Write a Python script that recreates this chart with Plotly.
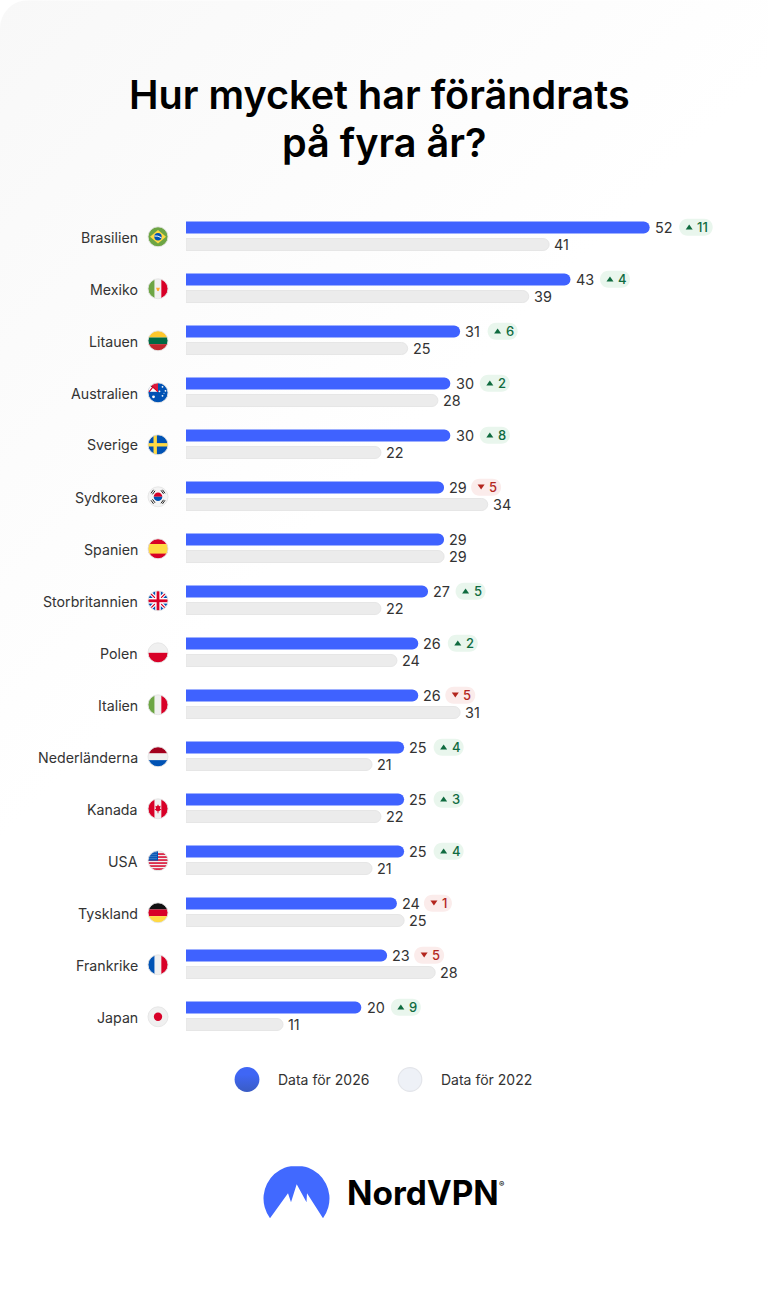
import base64
import plotly.graph_objects as go

countries = ['Brasilien', 'Mexiko', 'Litauen', 'Australien', 'Sverige', 'Sydkorea', 'Spanien', 'Storbritannien',
             'Polen', 'Italien', 'Nederländerna', 'Kanada', 'USA', 'Tyskland', 'Frankrike', 'Japan']
data_2026 = [52.1, 43.2, 30.8, 29.7, 29.7, 29.0, 29.0, 27.2, 26.1, 26.1, 24.51, 24.51, 24.51, 23.7, 22.6, 19.7]
data_2022 = [40.8, 38.51, 24.9, 28.3, 21.9, 33.9, 29.0, 21.9, 23.7, 30.8, 20.9, 21.9, 20.9, 24.51, 28.0, 10.9]
change = [11, 4, 6, 2, 8, -5, 0, 5, 2, -5, 4, 3, 4, -1, -5, 9]
title_lines = ['Hur mycket har förändrats', 'på fyra år?']

W, H = 768, 1289
L, R, T, B = 186, 20, 209.8, 247.2
SCALE = 8.9  # pixlar per enhet

FONT = 'Inter'
TEXT = '#333333'
BLUE = '#3F62FF'


def px(x):
    return (x - L) / (W - L - R)


def py(y):
    return 1 - (y - T) / (H - T - B)


def svg_uri(body, w, h, scale=4, box=None):
    box = box or f'0 0 {w} {h}'
    svg = (f'<svg xmlns="http://www.w3.org/2000/svg" width="{w * scale}" height="{h * scale}" '
           f'viewBox="{box}">{body}</svg>')
    return 'data:image/svg+xml;base64,' + base64.b64encode(svg.encode()).decode()


def image(uri, x, y, w, h, layer='above'):
    return dict(source=uri, xref='paper', yref='paper', x=px(x), y=py(y), sizex=w / (W - L - R),
                sizey=h / (H - T - B), xanchor='left', yanchor='top', sizing='stretch', layer=layer)


def rect(x, y, w, h, c):
    return f'<rect x="{x}" y="{y}" width="{w}" height="{h}" fill="{c}"/>'


def hbands(a, b, c):
    return rect(0, 0, 20, 6.67, a) + rect(0, 6.67, 20, 6.67, b) + rect(0, 13.33, 20, 6.67, c)


def vbands(a, b, c):
    return rect(0, 0, 6.67, 20, a) + rect(6.67, 0, 6.67, 20, b) + rect(13.33, 0, 6.67, 20, c)


RED, WHITE, NAVY, GREEN, YELLOW = '#D80027', '#F0F0F0', '#0052B4', '#6DA544', '#FFDA44'

us_stripes = ''.join(rect(0, y, 20, 1.5, RED) for y in (2.5, 5.5, 8.5, 11.5, 14.5, 17.5))
us_stars = ''.join(f'<circle cx="{x}" cy="{y}" r=".45" fill="#fff"/>' for x in (2, 4, 6, 8) for y in (2, 4, 6, 8))
au_stars = ''.join(f'<circle cx="{x}" cy="{y}" r="{r}" fill="#fff"/>'
                   for x, y, r in [(14.5, 4, .9), (17.5, 8, .9), (11.5, 8.5, .9), (14.5, 13, .9), (5.5, 14, 1.4), (16, 10.5, .5)])

flags = {
    'Brasilien': rect(0, 0, 20, 20, GREEN) + f'<path d="M10 3.2 18 10 10 16.8 2 10Z" fill="{YELLOW}"/>'
                 f'<circle cx="10" cy="10" r="3.7" fill="{NAVY}"/><path d="M6.4 9.2Q10 8.6 13.5 11" stroke="#fff" fill="none"/>',
    'Mexiko': vbands(GREEN, WHITE, RED) + '<path d="M8 9h4l-1 2.5-1 1-1-1z" fill="#FFA830"/>',
    'Litauen': hbands('#FFC72C', '#006A44', '#C1272D'),
    'Australien': rect(0, 0, 20, 20, NAVY) + rect(1, 0, 9, 9, '#fff')
                  + '<path d="M1 0h9v9z" fill="#D80027" opacity=".9"/><path d="M1 9 5 4M1 2h2l7 7" stroke="#D80027" stroke-width="1.2"/>'
                  + au_stars,
    'Sverige': rect(0, 0, 20, 20, NAVY) + rect(5.5, 0, 3.4, 20, YELLOW) + rect(0, 8.3, 20, 3.4, YELLOW),
    'Sydkorea': rect(0, 0, 20, 20, '#F4F4F4') + f'<path d="M5.7 10a4.3 4.3 0 0 1 8.6 0z" fill="{RED}"/>'
                f'<path d="M5.7 10a4.3 4.3 0 0 0 8.6 0z" fill="{NAVY}"/>'
                '<path d="M3 6.5 5.5 3M4.5 7.5 7 4M13 3.5 15.5 7M14.5 3 17 6.5M3 13.5 5.5 17M4.5 12.5 7 16M13 16.5 15.5 13M14.5 17 17 13.5"'
                ' stroke="#222" stroke-width="1"/>',
    'Spanien': rect(0, 0, 20, 20, RED) + rect(0, 5.2, 20, 9.6, YELLOW),
    'Storbritannien': rect(0, 0, 20, 20, NAVY)
                      + '<path d="M0 0 20 20M20 0 0 20" stroke="#fff" stroke-width="3.6"/>'
                      + f'<path d="M0 0 20 20M20 0 0 20" stroke="{RED}" stroke-width="1.2"/>'
                      + rect(7.2, 0, 5.6, 20, '#fff') + rect(0, 7.2, 20, 5.6, '#fff')
                      + rect(8.6, 0, 2.8, 20, RED) + rect(0, 8.6, 20, 2.8, RED),
    'Polen': rect(0, 0, 20, 10, WHITE) + rect(0, 10, 20, 10, RED),
    'Italien': vbands(GREEN, WHITE, RED),
    'Nederländerna': hbands('#A2001D', WHITE, NAVY),
    'Kanada': vbands(RED, WHITE, RED) + f'<path d="M10 5.5 11 7.5 12.7 7 12 10 13.5 10.5 11 12.5 10.4 12.5V14.5H9.6V12.5L9 12.5 6.5 10.5 8 10 7.3 7 9 7.5Z" fill="{RED}"/>',
    'USA': rect(0, 0, 20, 20, WHITE) + us_stripes + rect(0, 0, 10, 9.8, NAVY) + us_stars,
    'Tyskland': hbands('#111111', RED, YELLOW),
    'Frankrike': vbands(NAVY, WHITE, RED),
    'Japan': rect(0, 0, 20, 20, WHITE) + f'<circle cx="10" cy="10" r="4.2" fill="{RED}"/>',
}


def flag_uri(body):
    return svg_uri('<clipPath id="c"><circle cx="10" cy="10" r="10"/></clipPath>'
                   f'<g clip-path="url(#c)">{body}</g>'
                   '<circle cx="10" cy="10" r="10" fill="none" stroke="#E4E4E4" stroke-width=".9"/>',
                   22, 22, box='-1 -1 22 22')


background = ('<defs><linearGradient id="g" gradientUnits="userSpaceOnUse" x1="0" y1="0" x2="420" y2="420">'
              '<stop offset="0" stop-color="#F8F8F8"/><stop offset="1" stop-color="#FFFFFF"/></linearGradient></defs>'
              f'<rect x="0" y="0" width="{W + 40}" height="{H + 40}" rx="28" fill="url(#g)"/>')

blue_dot = ('<defs><linearGradient id="b" x1="0" y1="0" x2="0" y2="1"><stop offset=".3" stop-color="#3F66F5"/>'
            '<stop offset="1" stop-color="#3A5CC4"/></linearGradient></defs><circle cx="13" cy="13" r="12.4" fill="url(#b)"/>')
grey_dot = '<circle cx="13" cy="13" r="11.8" fill="#EEF1F7" stroke="#E3E5EA" stroke-width="1.2"/>'

logo = ('<path d="M7 52A33 33 0 1 1 60 52L44 27 43.5 36 33.7 18 28 36 25 27Z" fill="#4169FF"/>')

fig = go.Figure()
fig.add_trace(go.Bar(y=countries, x=data_2026, orientation='h', name='Data för 2026',
                     marker=dict(color=BLUE, line=dict(width=0))))
fig.add_trace(go.Bar(y=countries, x=data_2022, orientation='h', name='Data för 2022',
                     marker=dict(color='#ECECEC', line=dict(color='#E6E6E6', width=1))))

annotations = []
shapes = []
images = [image(svg_uri(background, W, H, scale=1), 0, 0, W, H, layer='below')]


def note(text, x, y, xref='x', yref='y', size=14, color=TEXT, weight=400, anchor='left', xshift=0, yshift=0):
    annotations.append(dict(text=text, x=x, y=y, xref=xref, yref=yref, xanchor=anchor, yanchor='middle',
                            showarrow=False, xshift=xshift, yshift=yshift, borderpad=0, borderwidth=0,
                            font=dict(family=FONT, size=size, color=color, weight=weight)))


def pill_path(x0, w, cy, h=17.0):
    r = h / 2
    k = r * 4 / 3
    x1 = x0 + w
    top, bot = cy + r, cy - r
    return (f'M {x0 + r} {top} L {x1 - r} {top} C {x1 - r + k} {top} {x1 - r + k} {bot} {x1 - r} {bot} '
            f'L {x0 + r} {bot} C {x0 + r - k} {bot} {x0 + r - k} {top} {x0 + r} {top} Z')


ROW_SHIFT = 8.7  # blå stapeln ligger så här många px ovanför radens mitt

for i, name in enumerate(countries):
    images.append(image(flag_uri(flags[name]), 147, T + 26 + 52 * i - 10.2, 22, 22))
    note(name, px(138), name, xref='paper', size=14.2, anchor='right', yshift=-1.2)

    label = f'{data_2026[i]:.0f}'
    note(label, data_2026[i], name, size=14.4, xshift=5.2, yshift=ROW_SHIFT)
    note(f'{data_2022[i]:.0f}', data_2022[i], name, size=14.4, xshift=5.2, yshift=-ROW_SHIFT)

    d = change[i]
    if d == 0:
        continue
    up = d > 0
    gap = 29.5 if up else 27
    if '1' in label or '7' in label:
        gap -= 2
    width = 33.5 if abs(d) == 11 else (28 if abs(d) == 1 else 30)
    fill = '#E9F6ED' if up else '#FBECEB'
    ink = '#0F6B3F' if up else '#B3261E'
    anchor_args = dict(xref='x', yref='y', xsizemode='pixel', ysizemode='pixel', xanchor=data_2026[i], yanchor=name,
                       line=dict(width=0), layer='above')
    shapes.append(dict(type='path', path=pill_path(gap, width, ROW_SHIFT), fillcolor=fill, **anchor_args))
    tx = gap + 6.5
    c = ROW_SHIFT + 0.3
    if up:
        tri = f'M {tx} {c - 2.4} L {tx + 7} {c - 2.4} L {tx + 3.5} {c + 2.4} Z'
    else:
        tri = f'M {tx} {c + 2.4} L {tx + 7} {c + 2.4} L {tx + 3.5} {c - 2.4} Z'
    shapes.append(dict(type='path', path=tri, fillcolor=ink, **anchor_args))
    note(str(abs(d)), data_2026[i], name, size=13, color=ink, weight=500, xshift=gap + 18, yshift=ROW_SHIFT + 0.2)

# rubrik
for line, x, y in zip(title_lines, (379.5, 383.5), (95, 143)):
    note(line, px(x), py(y), xref='paper', yref='paper', size=39.6, color='#000000', weight=600, anchor='center')

# teckenförklaring
images.append(image(svg_uri(blue_dot, 26, 26), 234, 1066.3, 26, 26))
images.append(image(svg_uri(grey_dot, 26, 26), 397, 1066.3, 26, 26))
note('Data för 2026', px(278), py(1079), xref='paper', yref='paper')
note('Data för 2022', px(440.5), py(1079), xref='paper', yref='paper')

# logotyp
images.append(image(svg_uri(logo, 68, 56), 263, 1166, 68, 56))
note('NordVPN', px(346.5), py(1193), xref='paper', yref='paper', size=33.4, color='#000000', weight=700)
note('®', px(498.5), py(1184), xref='paper', yref='paper', size=8, color='#000000', weight=600)

layout = go.Layout(
    width=W,
    height=H,
    margin=dict(l=L, r=R, t=T, b=B, pad=0),
    paper_bgcolor='white',
    plot_bgcolor='rgba(0,0,0,0)',
    showlegend=False,
    barmode='group',
    bargap=0.346,
    bargroupgap=0.294,
    barcornerradius=6,
    xaxis=dict(range=[0, (W - L - R) / SCALE], visible=False, fixedrange=True),
    yaxis=dict(type='category', categoryorder='array', categoryarray=countries, autorange='reversed',
               showline=False, showgrid=False, zeroline=False, ticks='', showticklabels=False),
    annotations=annotations,
    shapes=shapes,
    images=images,
)
fig.update_layout(layout)
fig.write_html('out.html', config={'displayModeBar': False}, post_script="document.body.style.margin='0';")
